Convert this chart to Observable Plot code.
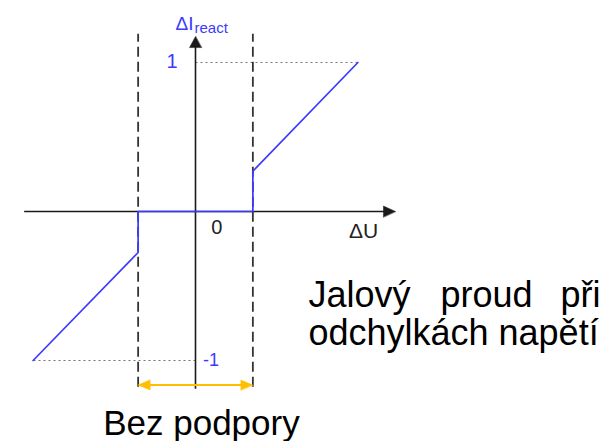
<!DOCTYPE html>
<html><head><meta charset="utf-8">
<script src="https://cdn.jsdelivr.net/npm/d3@7"></script>
<script src="https://cdn.jsdelivr.net/npm/@observablehq/plot@0.6"></script>
<style>body{margin:0;background:#fff}</style>
</head><body><div id="chart"></div>
<script>
// Characteristic: reactive current change vs voltage deviation (with dead band)
const curveU = [-1.09, -0.385, -0.385, 0.385, 0.385, 1.09];
const curveI = [-1, -0.275, 0, 0, 0.27, 1];
const deadBand = [-0.385, 0.385];
const levels = [1, -1];
const tickLabels = ["1", "-1", "0"];
const axisLabels = ["ΔU", "ΔI", "react"];
const noteLine1 = ["Jalový", "proud", "při"];
const noteLine2 = "odchylkách napětí";
const bandLabel = "Bez podpory";

const curve = curveU.map((u, k) => ({u, i: curveI[k]}));
const levelLines = levels.map((lv, k) => ({x1: 0, x2: k === 0 ? curveU[curveU.length - 1] : curveU[0], y: lv}));

const font = "'Liberation Sans', Arial, sans-serif";
const blue = "#3b3bff";
const orange = "#ffbf00";
const axisColor = "#1a1a1a";

const head = (w, h) => ({draw(ctx) { ctx.moveTo(0, 0); ctx.lineTo(-w / 2, h); ctx.lineTo(w / 2, h); ctx.closePath(); }});

const one = (v) => () => v;
const label = (t, x, y, o = {}) => Plot.text([t], {x: one(x), y: one(y), text: d => d, lineAnchor: "bottom", fontFamily: font, ...o});

const chart = Plot.plot({
  width: 611,
  height: 441,
  margin: 0,
  x: {domain: [0, 1], range: [195, 344], axis: null},
  y: {domain: [0, 1], range: [211, 62], axis: null},
  style: {background: "#fff", fontFamily: font},
  marks: [
    // dotted level guides
    Plot.link(levelLines, {x1: "x1", x2: "x2", y1: "y", y2: "y", stroke: "#777", strokeWidth: 1, strokeDasharray: "2,3"}),
    // dashed dead band bounds
    Plot.ruleX(deadBand, {y1: -1.18, y2: 1.19, stroke: "#333", strokeWidth: 1.8, strokeDasharray: "10,5"}),
    // x axis
    Plot.link([0], {x1: one(-1.15), x2: one(1.30), y1: one(0), y2: one(0), stroke: axisColor, strokeWidth: 1.6}),
    Plot.vector([0], {x: one(1.342), y: one(0), rotate: 90, anchor: "start", shape: head(11, 12), fill: axisColor, stroke: axisColor, strokeWidth: 0.5}),
    // y axis
    Plot.link([0], {x1: one(0), x2: one(0), y1: one(-1.19), y2: one(1.11), stroke: axisColor, strokeWidth: 1.6}),
    Plot.vector([0], {x: one(0), y: one(1.174), rotate: 0, anchor: "start", shape: head(12, 11), fill: axisColor, stroke: axisColor, strokeWidth: 0.5}),
    // characteristic
    Plot.line(curve, {x: "u", y: "i", stroke: blue, strokeWidth: 1.7}),
    // dead band width arrow
    Plot.link([0], {x1: one(deadBand[0] + 0.05), x2: one(deadBand[1] - 0.05), y1: one(-1.165), y2: one(-1.165), stroke: orange, strokeWidth: 2}),
    Plot.vector(deadBand, {x: d => d, y: one(-1.165), rotate: d => d < 0 ? -90 : 90, anchor: "start", shape: head(10, 12), fill: orange, stroke: orange, strokeWidth: 0.5}),
    // labels
    label(tickLabels[0], -0.158, 0.966, {textAnchor: "middle", fontSize: 20, fill: blue}),
    label(tickLabels[1], 0.05, -1.034, {textAnchor: "start", fontSize: 18, fill: blue}),
    label(tickLabels[2], 0.105, -0.148, {textAnchor: "start", fontSize: 20, fill: "#222"}),
    label(axisLabels[0], 1.03, -0.181, {textAnchor: "start", fontSize: 21, fill: "#222"}),
    label(axisLabels[1], -0.013, 1.221, {textAnchor: "end", fontSize: 19, fill: blue}),
    label(axisLabels[2], -0.007, 1.195, {textAnchor: "start", fontSize: 15, fill: blue}),
    label(noteLine1[0], 0.758, -0.644, {textAnchor: "start", fontSize: 36, fill: "#000"}),
    label(noteLine1[1], 1.953, -0.644, {textAnchor: "middle", fontSize: 36, fill: "#000"}),
    label(noteLine1[2], 2.718, -0.644, {textAnchor: "end", fontSize: 36, fill: "#000"}),
    label(noteLine2, 0.758, -0.899, {textAnchor: "start", fontSize: 36, fill: "#000"}),
    label(bandLabel, 0.04, -1.503, {textAnchor: "middle", fontSize: 35, fill: "#000"})
  ]
});
document.getElementById("chart").appendChild(chart);
</script>
</body></html>
